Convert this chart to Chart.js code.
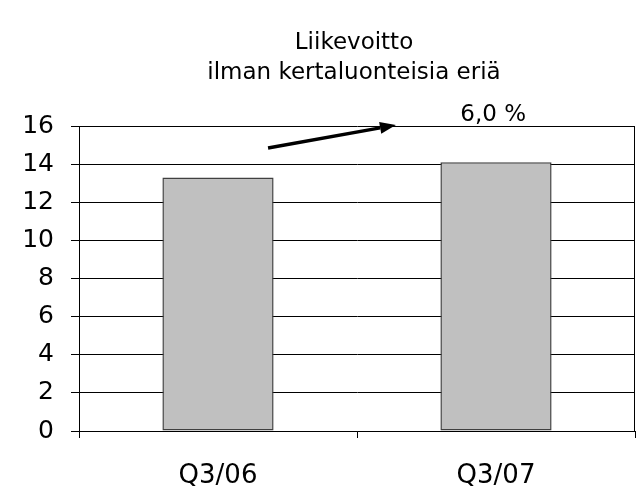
<!DOCTYPE html>
<html>
<head>
<meta charset="utf-8">
<script src="https://cdn.jsdelivr.net/npm/chart.js@4"></script>
<style>
  html, body { margin: 0; padding: 0; background: #fff; }
</style>
</head>
<body>
<canvas id="profitChart" width="641" height="491"></canvas>
<script>
// --- Data ---
const categories = ['Q3/06', 'Q3/07'];
const profitValues = [13.3, 14.1];
const titleLines = ['Liikevoitto', 'ilman kertaluonteisia eriä'];
const growthLabel = '6,0 %';
// arrow from / to in data units (category index, value)
const arrowFrom = [0.18, 14.85];
const arrowTo = [0.64, 16.05];
const labelAt = [0.99, 16.6];

const FONT = 'DejaVu Sans, Verdana, sans-serif';

// Title, plot border, growth arrow and label
const decorations = {
    id: 'decorations',
    afterDraw(chart) {
        const { ctx, chartArea, scales } = chart;
        const x = scales.x, y = scales.y;
        ctx.save();

        // title centered over plot area
        ctx.fillStyle = '#000';
        ctx.font = '23px ' + FONT;
        ctx.textAlign = 'center';
        ctx.textBaseline = 'middle';
        const cx = (chartArea.left + chartArea.right) / 2 - 3;
        ctx.fillText(titleLines[0], cx, 43);
        ctx.fillText(titleLines[1], cx, 73);

        // right border of plot area
        ctx.strokeStyle = '#000';
        ctx.lineWidth = 1;
        ctx.beginPath();
        ctx.moveTo(Math.round(chartArea.right) - 0.5, chartArea.top);
        ctx.lineTo(Math.round(chartArea.right) - 0.5, chartArea.bottom);
        ctx.stroke();

        // arrow
        const x1 = x.getPixelForValue(arrowFrom[0]), y1 = y.getPixelForValue(arrowFrom[1]);
        const x2 = x.getPixelForValue(arrowTo[0]), y2 = y.getPixelForValue(arrowTo[1]);
        const ang = Math.atan2(y2 - y1, x2 - x1);
        const head = 16, halfW = 6;
        const bx = x2 - head * Math.cos(ang), by = y2 - head * Math.sin(ang);
        ctx.lineWidth = 3.5;
        ctx.beginPath();
        ctx.moveTo(x1, y1);
        ctx.lineTo(bx, by);
        ctx.stroke();
        ctx.fillStyle = '#000';
        ctx.beginPath();
        ctx.moveTo(x2, y2);
        ctx.lineTo(bx + halfW * Math.sin(ang), by - halfW * Math.cos(ang));
        ctx.lineTo(bx - halfW * Math.sin(ang), by + halfW * Math.cos(ang));
        ctx.closePath();
        ctx.fill();

        // growth label
        ctx.font = '23px ' + FONT;
        ctx.fillText(growthLabel, x.getPixelForValue(labelAt[0]), y.getPixelForValue(labelAt[1]));
        ctx.restore();
    }
};

const ctx = document.getElementById('profitChart').getContext('2d');
new Chart(ctx, {
    type: 'bar',
    data: {
        labels: categories,
        datasets: [{
            data: profitValues,
            backgroundColor: '#c0c0c0',
            borderColor: '#404040',
            borderWidth: 1.5,
            borderSkipped: false,
            barPercentage: 0.4,
            categoryPercentage: 1.0
        }]
    },
    options: {
        responsive: false,
        animation: false,
        devicePixelRatio: 1,
        layout: { padding: { top: 126, right: 6, left: 0, bottom: 0 } },
        plugins: {
            legend: { display: false },
            title: { display: false },
            tooltip: { enabled: false }
        },
        scales: {
            x: {
                grid: {
                    offset: true,
                    drawOnChartArea: false,
                    drawTicks: true,
                    tickLength: 7,
                    color: '#000'
                },
                border: { color: '#000', width: 1 },
                ticks: {
                    color: '#000',
                    font: { family: FONT, size: 26 },
                    padding: 23,
                    maxRotation: 0
                },
                afterFit(scale) { scale.height = 60; }
            },
            y: {
                min: 0,
                max: 16,
                ticks: {
                    stepSize: 2,
                    color: '#000',
                    font: { family: FONT, size: 25 },
                    padding: 17
                },
                grid: { color: '#000', tickLength: 8, lineWidth: 1 },
                border: { color: '#000', width: 1 },
                afterFit(scale) { scale.width = 79; }
            }
        }
    },
    plugins: [decorations]
});
</script>
</body>
</html>
